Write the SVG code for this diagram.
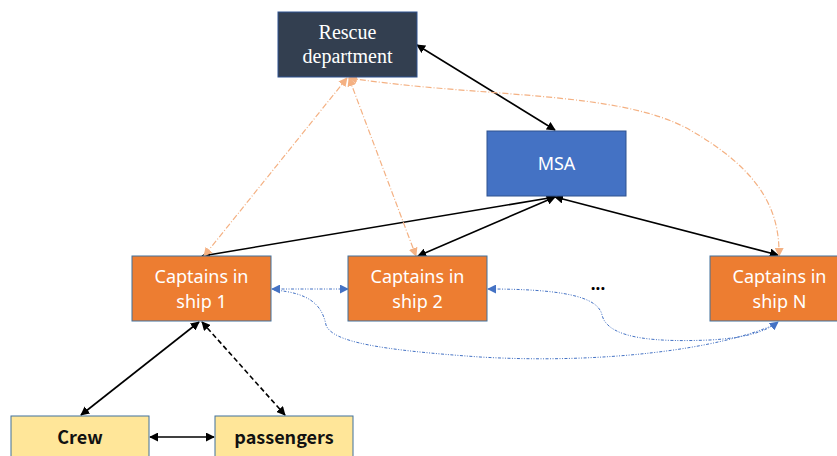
<svg xmlns="http://www.w3.org/2000/svg" width="837" height="456" viewBox="0 0 837 456">
  <style>
    .rescue { fill: #333F50; stroke: #2F528F; stroke-width: 1; }
    .msa { fill: #4472C4; stroke: #2F528F; stroke-width: 1; }
    .cap { fill: #ED7D31; stroke: #41719C; stroke-width: 1; }
    .peo { fill: #FFE699; stroke: #41719C; stroke-width: 1; }
    .serif { font-family: "Liberation Serif", "Times New Roman", serif; font-size: 20px; fill: #FFFFFF; text-anchor: middle; }
    .sans { font-family: "Noto Sans", "Open Sans", sans-serif; font-size: 18px; fill: #FFFFFF; text-anchor: middle; font-weight: 400; }
    .bold { font-family: "Noto Sans CJK SC", "Noto Sans", sans-serif; font-size: 18px; fill: #111111; text-anchor: middle; font-weight: 700; }
    .solid { fill: none; stroke: #000000; stroke-width: 1.6; marker-start: url(#ak); marker-end: url(#ak); }
    .dash { fill: none; stroke: #000000; stroke-width: 1.6; stroke-dasharray: 5 3; marker-start: url(#ak); marker-end: url(#ak); }
    .orange { fill: none; stroke: #F4B183; stroke-width: 1.2; stroke-dasharray: 6 2 1 2; }
    .blue { fill: none; stroke: #4472C4; stroke-width: 1; stroke-dasharray: 3 1.5 1 1.5 1 1.5; }
  </style>
  <defs>
    <marker id="ak" viewBox="0 0 10 10" refX="9" refY="5" markerWidth="9" markerHeight="9" markerUnits="userSpaceOnUse" orient="auto-start-reverse">
      <path d="M0,0 L10,5 L0,10 z" fill="#000000"/>
    </marker>
    <marker id="ao" viewBox="0 0 10 10" refX="9" refY="5" markerWidth="9" markerHeight="9" markerUnits="userSpaceOnUse" orient="auto-start-reverse">
      <path d="M0,0 L10,5 L0,10 z" fill="#F4B183"/>
    </marker>
    <marker id="ab" viewBox="0 0 10 10" refX="9" refY="5" markerWidth="9" markerHeight="9" markerUnits="userSpaceOnUse" orient="auto-start-reverse">
      <path d="M0,0 L10,5 L0,10 z" fill="#4472C4"/>
    </marker>
  </defs>

  <rect width="837" height="456" fill="#FFFFFF"/>

  <!-- connectors -->
  <g id="connectors">
    <line class="solid" x1="417" y1="45" x2="555" y2="130"/>
    <line class="solid" x1="555" y1="197" x2="202" y2="256"/>
    <line class="solid" x1="555" y1="197" x2="418" y2="256"/>
    <line class="solid" x1="555" y1="197" x2="778" y2="255"/>
    <line class="solid" x1="199" y1="322" x2="81" y2="415"/>
    <line class="dash" x1="202" y1="322" x2="285" y2="415"/>
    <line class="solid" x1="150" y1="437" x2="214" y2="437"/>

    <line class="orange" x1="347" y1="78" x2="204" y2="256" marker-start="url(#ao)" marker-end="url(#ao)"/>
    <line class="orange" x1="349" y1="78" x2="416" y2="256" marker-start="url(#ao)" marker-end="url(#ao)"/>
    <path class="orange" d="M349,78 C480,98 620,90 690,130 C760,170 780,210 779,256" marker-start="url(#ao)" marker-end="url(#ao)"/>

    <line class="blue" x1="272" y1="289" x2="348" y2="289" marker-start="url(#ab)" marker-end="url(#ab)"/>
    <path class="blue" d="M488,289 C560,289 598,296 602,315 C608,340 660,342 710,340 C745,338 765,332 778,322" marker-start="url(#ab)" marker-end="url(#ab)"/>
    <path class="blue" d="M274,290 C310,293 322,305 326,325 C332,342 380,350 480,357 C600,364 720,350 778,323"/>
  </g>

  <!-- nodes -->
  <g id="rescue">
    <rect class="rescue" x="278" y="12" width="139" height="65"/>
    <text class="serif" x="347.5" y="39">Rescue</text>
    <text class="serif" x="347.5" y="63">department</text>
  </g>
  <g id="msa">
    <rect class="msa" x="487" y="131" width="139" height="65"/>
    <text class="sans" x="556.5" y="170" font-size="19">MSA</text>
  </g>
  <g id="ship1">
    <rect class="cap" x="132" y="256" width="139" height="65"/>
    <text class="sans" x="201.5" y="283">Captains in</text>
    <text class="sans" x="201.5" y="308">ship 1</text>
  </g>
  <g id="ship2">
    <rect class="cap" x="348" y="256" width="139" height="65"/>
    <text class="sans" x="417.5" y="283">Captains in</text>
    <text class="sans" x="417.5" y="308">ship 2</text>
  </g>
  <g id="shipN">
    <rect class="cap" x="710" y="256" width="139" height="65"/>
    <text class="sans" x="779.5" y="283">Captains in</text>
    <text class="sans" x="779.5" y="308">ship N</text>
  </g>
  <g id="ellipsis">
    <text x="598" y="290" font-family="Noto Sans, sans-serif" font-size="17" font-weight="700" fill="#000000" text-anchor="middle">...</text>
  </g>
  <g id="crew">
    <rect class="peo" x="11" y="416" width="138" height="65"/>
    <text class="bold" x="80" y="444">Crew</text>
  </g>
  <g id="passengers">
    <rect class="peo" x="215" y="416" width="138" height="65"/>
    <text class="bold" x="284" y="444">passengers</text>
  </g>
</svg>
